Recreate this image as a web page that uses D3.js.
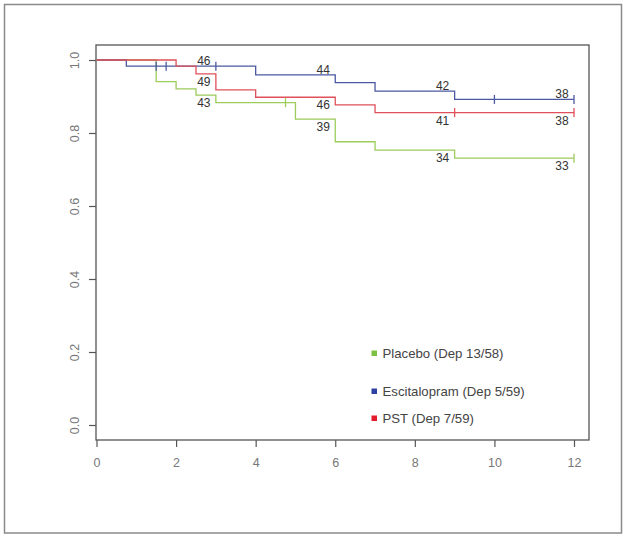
<!DOCTYPE html>
<html>
<head>
<meta charset="utf-8">
<script src="https://cdn.jsdelivr.net/npm/d3@7"></script>
<style>
  body { margin: 0; background: #fff; }
  text { font-family: "Liberation Sans", Arial, sans-serif; }
</style>
</head>
<body>
<div id="container"></div>
<script>
// Kaplan-Meier estimates (time in months)
const placeboTimes = [0, 1.5, 2, 2.5, 3, 5, 6, 7, 9, 12];
const placeboSurv = [1, 0.941, 0.921, 0.904, 0.883, 0.838, 0.776, 0.753, 0.731, 0.731];
const placeboCensor = [4.75, 12];

const escTimes = [0, 0.75, 4, 6, 7, 9, 12];
const escSurv = [1, 0.983, 0.959, 0.938, 0.915, 0.892, 0.892];
const escCensor = [1.5, 1.75, 3, 10, 12];

const pstTimes = [0, 2, 2.5, 3, 4, 6, 7, 12];
const pstSurv = [1, 0.983, 0.962, 0.918, 0.898, 0.877, 0.856, 0.856];
const pstCensor = [9, 12];

// numbers at risk
const atRiskTimes = [3, 6, 9, 12];
const placeboAtRisk = [43, 39, 34, 33];
const escAtRisk = [46, 44, 42, 38];
const pstAtRisk = [49, 46, 41, 38];

const legendLabels = ['Placebo (Dep 13/58)', 'Escitalopram (Dep 5/59)', 'PST (Dep 7/59)'];
const xTicks = [0, 2, 4, 6, 8, 10, 12];
const yTicks = [0, 0.2, 0.4, 0.6, 0.8, 1.0];

const width = 629, height = 539;

const series = [
  {name: 'placebo', t: placeboTimes, s: placeboSurv, cens: placeboCensor, risk: placeboAtRisk, line: '#9ccc5a', key: '#7cc242', dy: 8},
  {name: 'esc', t: escTimes, s: escSurv, cens: escCensor, risk: escAtRisk, line: '#4a5aa0', key: '#2e40a0', dy: -5},
  {name: 'pst', t: pstTimes, s: pstSurv, cens: pstCensor, risk: pstAtRisk, line: '#e0505a', key: '#e41b2c', dy: 8}
];

const x = d3.scaleLinear().domain([0, 12]).range([96.5, 574]);
const y = d3.scaleLinear().domain([0, 1]).range([425, 60]);

// plot box
const box = {left: 96, right: 589, top: 45, bottom: 440};

const svg = d3.select('#container')
  .append('svg')
  .attr('width', width)
  .attr('height', height);

// outer frame
svg.append('rect')
  .attr('x', 4.5).attr('y', 4.5)
  .attr('width', 617).attr('height', 528.5)
  .attr('fill', 'none')
  .attr('stroke', '#8a8a8a')
  .attr('stroke-width', 1.5);

svg.append('rect')
  .attr('x', box.left).attr('y', box.top)
  .attr('width', box.right - box.left).attr('height', box.bottom - box.top)
  .attr('fill', 'none')
  .attr('stroke', '#555')
  .attr('stroke-width', 1.3);

// x axis
const xAxis = d3.axisBottom(x).tickValues(xTicks).tickSize(7).tickPadding(11).tickFormat(d3.format('d'));
const gx = svg.append('g')
  .attr('transform', `translate(0,${box.bottom})`)
  .call(xAxis);
gx.select('.domain').remove();
gx.selectAll('line').attr('stroke', '#555').attr('stroke-width', 1.2);
gx.selectAll('text').attr('fill', '#777').style('font-size', '12.5px');

// y axis
const yAxis = d3.axisLeft(y).tickValues(yTicks).tickSize(7).tickFormat(d3.format('.1f'));
const gy = svg.append('g')
  .attr('transform', `translate(${box.left},0)`)
  .call(yAxis);
gy.select('.domain').remove();
gy.selectAll('line').attr('stroke', '#555').attr('stroke-width', 1.2);
gy.selectAll('text')
  .attr('fill', '#777')
  .style('font-size', '12.5px')
  .attr('x', 0).attr('dy', null)
  .attr('text-anchor', 'middle')
  .attr('transform', 'translate(-21,0) rotate(-90)')
  .attr('dominant-baseline', 'central');

const line = d3.line()
  .x(d => x(d[0]))
  .y(d => y(d[1]))
  .curve(d3.curveStepAfter);

// value of the curve just before time t
function survBefore(sr, t) {
  let v = 1;
  sr.t.forEach((tt, i) => { if (tt < t) v = sr.s[i]; });
  return v;
}
function survAt(sr, t) {
  let v = 1;
  sr.t.forEach((tt, i) => { if (tt <= t) v = sr.s[i]; });
  return v;
}

series.forEach(sr => {
  const pts = sr.t.map((t, i) => [t, sr.s[i]]);
  svg.append('path')
    .datum(pts)
    .attr('d', line)
    .attr('fill', 'none')
    .attr('stroke', sr.line)
    .attr('stroke-width', 1.3);

  svg.selectAll('.cens-' + sr.name)
    .data(sr.cens)
    .enter()
    .append('line')
    .attr('class', 'cens-' + sr.name)
    .attr('x1', d => x(d)).attr('x2', d => x(d))
    .attr('y1', d => y(survAt(sr, d)) - 4.5)
    .attr('y2', d => y(survAt(sr, d)) + 4.5)
    .attr('stroke', sr.line)
    .attr('stroke-width', 1.3);
});

// numbers at risk
series.forEach(sr => {
  svg.selectAll('.risk-' + sr.name)
    .data(sr.risk)
    .enter()
    .append('text')
    .attr('class', 'risk-' + sr.name)
    .attr('x', (d, i) => x(atRiskTimes[i]) - 12)
    .attr('y', (d, i) => y(survBefore(sr, atRiskTimes[i])) + sr.dy)
    .attr('text-anchor', 'middle')
    .attr('dominant-baseline', 'central')
    .attr('fill', '#333')
    .style('font-size', '12px')
    .text(d => d);
});

// legend
const legendY = [353, 391, 418];
const legend = svg.selectAll('.legend')
  .data(legendLabels)
  .enter()
  .append('g')
  .attr('class', 'legend')
  .attr('transform', (d, i) => `translate(374,${legendY[i]})`);
legend.append('rect')
  .attr('x', -2.5).attr('y', -2.5)
  .attr('width', 5.5).attr('height', 5.5)
  .attr('fill', (d, i) => series[i].key);
legend.append('text')
  .attr('x', 8.5)
  .attr('dominant-baseline', 'central')
  .attr('fill', '#444')
  .style('font-size', '13.2px')
  .text(d => d);
</script>
</body>
</html>
